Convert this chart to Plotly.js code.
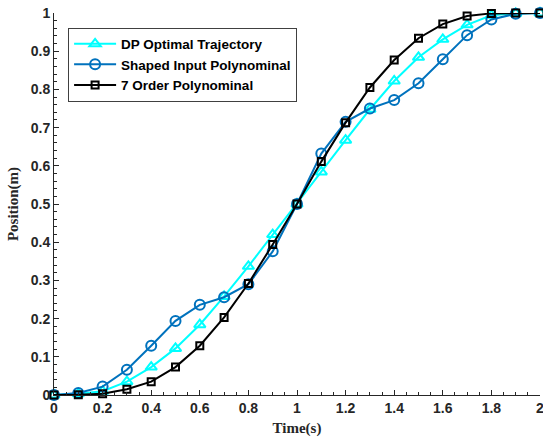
<!DOCTYPE html>
<html>
<head>
<meta charset="utf-8">
<script src="https://cdn.plot.ly/plotly-3.0.1.min.js"></script>
<style>html,body{margin:0;padding:0;background:#fff;}#chart{width:543px;height:437px;}</style>
</head>
<body>
<div id="chart"></div>
<script>
const timeS = [0, 0.1, 0.2, 0.3, 0.4, 0.5, 0.6, 0.7, 0.8, 0.9, 1.0, 1.1, 1.2, 1.3, 1.4, 1.5, 1.6, 1.7, 1.8, 1.9, 2.0];
const dpOptimal = [0, 0.003, 0.01, 0.035, 0.073, 0.122, 0.184, 0.258, 0.337, 0.42, 0.5, 0.584, 0.667, 0.748, 0.822, 0.884, 0.931, 0.969, 0.994, 0.999, 1.0];
const shapedInput = [0, 0.005, 0.022, 0.066, 0.129, 0.194, 0.236, 0.256, 0.29, 0.376, 0.5, 0.632, 0.715, 0.75, 0.772, 0.816, 0.879, 0.942, 0.983, 0.998, 1.0];
const order7 = [0, 0.0005, 0.003, 0.015, 0.035, 0.073, 0.129, 0.203, 0.292, 0.394, 0.5, 0.611, 0.713, 0.805, 0.877, 0.934, 0.971, 0.992, 0.999, 1.0, 1.0];
const seriesNames = ["DP Optimal Trajectory", "Shaped Input Polynominal", "7 Order Polynominal"];
const xTickVals = [0, 0.2, 0.4, 0.6, 0.8, 1, 1.2, 1.4, 1.6, 1.8, 2];
const yTickVals = [0, 0.1, 0.2, 0.3, 0.4, 0.5, 0.6, 0.7, 0.8, 0.9, 1];

const axisColor = '#262626';
const traces = [
  {x: timeS, y: dpOptimal, name: seriesNames[0], mode: 'lines+markers', cliponaxis: false,
   line: {color: '#00FFFF', width: 2},
   marker: {symbol: 'triangle-up-open', size: 10, color: '#00FFFF', line: {width: 2, color: '#00FFFF'}}},
  {x: timeS, y: shapedInput, name: seriesNames[1], mode: 'lines+markers', cliponaxis: false,
   line: {color: '#0072BD', width: 2},
   marker: {symbol: 'circle-open', size: 10, color: '#0072BD', line: {width: 2, color: '#0072BD'}}},
  {x: timeS, y: order7, name: seriesNames[2], mode: 'lines+markers', cliponaxis: false,
   line: {color: '#000000', width: 2},
   marker: {symbol: 'square-open', size: 7, color: '#000000', line: {width: 2, color: '#000000'}}}
];

const tickFont = {family: 'Liberation Sans, Arial, sans-serif', size: 14, color: axisColor, weight: 'bold'};
const titleFont = {family: 'Liberation Serif, Times New Roman, serif', size: 15, color: axisColor, weight: 'bold'};

const layout = {
  width: 543, height: 437,
  margin: {l: 54, r: 3, t: 13, b: 42},
  paper_bgcolor: '#fff', plot_bgcolor: '#fff',
  showlegend: true,
  xaxis: {
    range: [0, 2], tickvals: xTickVals, ticktext: xTickVals.map(String),
    showline: true, linecolor: axisColor, linewidth: 1, mirror: false,
    ticks: 'inside', ticklen: 5, tickcolor: axisColor, tickwidth: 1,
    minor: {ticks: 'inside', dtick: 0.05, ticklen: 3, tickcolor: axisColor, showgrid: false},
    showgrid: false, zeroline: false, tickfont: tickFont, ticklabeloverflow: 'allow',
    title: {text: 'Time(s)', font: titleFont, standoff: 9}
  },
  yaxis: {
    range: [0, 1], tickvals: yTickVals, ticktext: yTickVals.map(String),
    showline: true, linecolor: axisColor, linewidth: 1, mirror: false,
    ticks: 'inside', ticklen: 5, tickcolor: axisColor, tickwidth: 1,
    minor: {ticks: 'inside', dtick: 0.02, ticklen: 3, tickcolor: axisColor, showgrid: false},
    showgrid: false, zeroline: false, tickfont: tickFont, ticklabeloverflow: 'allow',
    title: {text: 'Position(m)', font: titleFont, standoff: 8}
  },
  legend: {
    x: 0.029, y: 0.962, xanchor: 'left', yanchor: 'top',
    bgcolor: '#fff', bordercolor: '#404040', borderwidth: 1,
    font: {family: 'Liberation Sans, Arial, sans-serif', size: 13.5, color: '#000', weight: 'bold'},
    itemwidth: 42, tracegroupgap: 0
  }
};

Plotly.newPlot('chart', traces, layout, {displayModeBar: false, staticPlot: true});
</script>
</body>
</html>
